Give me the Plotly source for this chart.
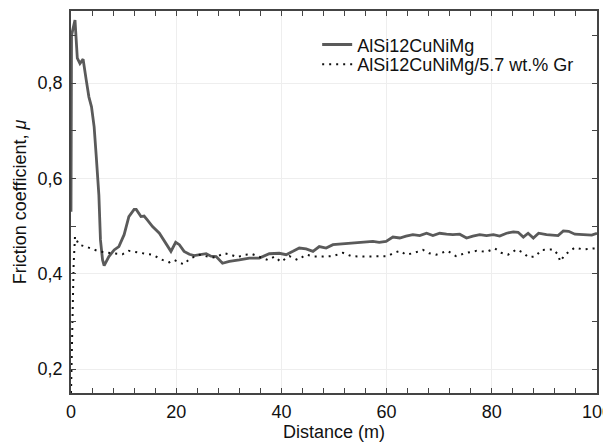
import plotly.graph_objects as go

# Series 1: AlSi12CuNiMg (solid)
x_base = [0, 0.1, 0.76, 1.2, 1.7, 2.3, 2.9, 3.4, 3.9, 4.4, 4.8, 5.3, 5.6, 6.0, 6.3, 7.2, 8.2, 9.1,
          10.1, 11.0, 12.0, 12.4, 13.3, 13.9, 14.5, 15.5, 16.8, 18.0, 19.0, 19.9, 20.6, 21.5, 22.5,
          23.4, 24.4, 25.7, 26.6, 27.6, 28.8, 30.1, 32.0, 33.9, 35.8, 37.7, 39.6, 40.9, 42.2, 43.4,
          44.7, 46.0, 47.2, 48.5, 49.8, 51.7, 53.6, 55.5, 57.4, 58.6, 59.9, 61.2, 62.5, 63.7, 65.0,
          66.3, 67.6, 68.8, 70.1, 71.4, 72.6, 73.9, 75.2, 76.4, 77.7, 79.0, 80.3, 81.5, 82.8, 84.1,
          85.0, 86.0, 86.9, 87.9, 88.9, 90.4, 91.7, 92.6, 93.6, 94.6, 95.8, 97.4, 99.0, 100.0]
y_base = [0.53, 0.90, 0.932, 0.852, 0.841, 0.85, 0.806, 0.771, 0.75, 0.708, 0.646, 0.565, 0.471,
          0.429, 0.417, 0.436, 0.45, 0.457, 0.482, 0.52, 0.535, 0.535, 0.52, 0.521, 0.513, 0.499,
          0.485, 0.464, 0.447, 0.466, 0.461, 0.447, 0.441, 0.438, 0.44, 0.442, 0.437, 0.436, 0.422,
          0.426, 0.429, 0.433, 0.433, 0.442, 0.443, 0.44, 0.447, 0.454, 0.452, 0.447, 0.457, 0.454,
          0.461, 0.463, 0.465, 0.466, 0.468, 0.466, 0.468, 0.477, 0.475, 0.479, 0.482, 0.48, 0.485,
          0.48, 0.485, 0.483, 0.482, 0.483, 0.475, 0.479, 0.482, 0.48, 0.482, 0.479, 0.485, 0.488,
          0.487, 0.477, 0.485, 0.475, 0.485, 0.482, 0.48, 0.48, 0.49, 0.489, 0.483, 0.482, 0.481,
          0.485]

# Series 2: AlSi12CuNiMg/5.7 wt.% Gr (dotted)
x_gr = [0, 0.3, 0.5, 0.76, 1.5, 2.8, 4.1, 5.3, 7.9, 9.8, 11.0, 12.3, 14.2, 15.5, 17.4, 18.7, 19.6,
        20.9, 21.5, 22.5, 23.7, 24.4, 26.0, 27.3, 29.1, 30.4, 31.6, 33.2, 34.5, 35.8, 37.4, 38.7,
        39.9, 41.5, 43.1, 44.7, 46.3, 47.9, 49.8, 51.7, 53.3, 55.5, 58.0, 60.2, 61.2, 62.5, 63.7,
        65.0, 66.9, 68.1, 69.4, 71.6, 73.2, 75.2, 77.1, 79.0, 80.6, 81.8, 83.1, 84.7, 86.0, 86.9,
        88.2, 89.5, 91.7, 92.6, 93.0, 93.9, 95.8, 97.4, 99.4, 100.0]
y_gr = [0.15, 0.30, 0.42, 0.478, 0.461, 0.457, 0.452, 0.447, 0.443, 0.441, 0.448, 0.445, 0.442,
        0.44, 0.429, 0.424, 0.429, 0.422, 0.42, 0.431, 0.436, 0.44, 0.436, 0.434, 0.443, 0.44,
        0.435, 0.44, 0.441, 0.436, 0.429, 0.436, 0.425, 0.437, 0.429, 0.44, 0.436, 0.436, 0.437,
        0.444, 0.437, 0.436, 0.436, 0.437, 0.443, 0.448, 0.44, 0.443, 0.45, 0.443, 0.44, 0.448,
        0.437, 0.444, 0.448, 0.446, 0.453, 0.444, 0.44, 0.451, 0.444, 0.435, 0.436, 0.45, 0.451,
        0.44, 0.426, 0.44, 0.455, 0.451, 0.453, 0.453]

names = ["AlSi12CuNiMg", "AlSi12CuNiMg/5.7 wt.% Gr"]

x_ticks = [0, 20, 40, 60, 80, 100]
y_ticks = [0.2, 0.4, 0.6, 0.8]
y_tick_text = ["0,2", "0,4", "0,6", "0,8"]

FONT = "Liberation Sans, Arial, sans-serif"

fig = go.Figure()
fig.add_trace(go.Scatter(x=x_base, y=y_base, mode="lines", name=names[0], legend="legend",
                         line=dict(color="#5a5a5a", width=2.8)))
fig.add_trace(go.Scatter(x=x_gr, y=y_gr, mode="lines", name=names[1], legend="legend2",
                         line=dict(color="#111111", width=2, dash="2px,5px")))

axis_common = dict(
    showline=True, linecolor="#444444", linewidth=1.5, mirror="allticks",
    ticks="inside", ticklen=5, tickcolor="#444444", tickwidth=1,
    showgrid=True, gridcolor="#eeeeee", gridwidth=1, zeroline=False,
    automargin=False, ticklabeloverflow="allow",
    tickfont=dict(family=FONT, size=18, color="#111111"),
)

legend_common = dict(xanchor="left", yanchor="top", bgcolor="rgba(0,0,0,0)", borderwidth=0,
                     font=dict(family=FONT, size=18, color="#111111"), itemwidth=30)

fig.update_layout(
    width=603, height=438,
    margin=dict(l=63, r=14, t=3, b=53),
    paper_bgcolor="white", plot_bgcolor="white",
    separators=",.",
    font=dict(family=FONT, color="#111111"),
    xaxis=dict(range=[0, 100], tickvals=x_ticks, ticktext=[str(v) for v in x_ticks],
               minor=dict(dtick=4, ticks="inside", ticklen=5, tickcolor="#444444", showgrid=False),
               title=dict(text="Distance (m)", font=dict(size=18), standoff=4),
               ticklabelstandoff=2,
               **axis_common),
    yaxis=dict(range=[0.15, 0.951], tickvals=y_ticks, ticktext=y_tick_text,
               minor=dict(dtick=0.1, tick0=0, ticks="inside", ticklen=5, tickcolor="#444444", showgrid=False),
               title=dict(text="Friction coefficient, <i>μ</i>", font=dict(size=18), standoff=6),
               ticklabelstandoff=3,
               **axis_common),
    legend=dict(x=0.468, y=0.960, **legend_common),
    legend2=dict(x=0.468, y=0.908, **legend_common),
    showlegend=True,
)

fig.write_html("out.html")
